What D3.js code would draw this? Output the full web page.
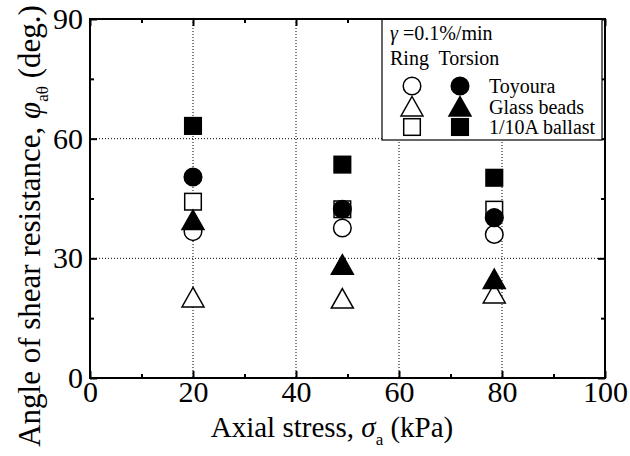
<!DOCTYPE html>
<html>
<head>
<meta charset="utf-8">
<script src="https://cdn.jsdelivr.net/npm/d3@7"></script>
<style>
  body { margin: 0; background: #fff; }
  text { font-family: "Liberation Serif", "Times New Roman", serif; fill: #000; }
</style>
</head>
<body>
<div id="chart"></div>
<script>
// Data
const stress = [20, 49, 78.5];
const toyouraRing = [36.7, 37.6, 36.0];
const toyouraTorsion = [50.4, 42.3, 40.2];
const glassRing = [20.2, 19.9, 21.2];
const glassTorsion = [39.6, 28.4, 24.8];
const ballastRing = [44.2, 42.3, 42.2];
const ballastTorsion = [63.2, 53.5, 50.2];

const xTicks = [0, 20, 40, 60, 80, 100];
const xMinor = [10, 30, 50, 70, 90];
const yTicks = [0, 30, 60, 90];
const yMinor = [15, 45, 75];

const series = [
  {name: 'Toyoura', shape: 'circle', fill: false, values: toyouraRing},
  {name: 'Glass beads', shape: 'triangle', fill: false, values: glassRing},
  {name: '1/10A ballast', shape: 'square', fill: false, values: ballastRing},
  {name: 'Toyoura', shape: 'circle', fill: true, values: toyouraTorsion},
  {name: 'Glass beads', shape: 'triangle', fill: true, values: glassTorsion},
  {name: '1/10A ballast', shape: 'square', fill: true, values: ballastTorsion}
];

const width = 630;
const height = 456;
const margin = {top: 19, right: 25, bottom: 78, left: 90};
const innerW = width - margin.left - margin.right;
const innerH = height - margin.top - margin.bottom;

const svg = d3.select('#chart')
  .append('svg')
    .attr('width', width)
    .attr('height', height);

const g = svg.append('g')
  .attr('transform', `translate(${margin.left},${margin.top})`);

const x = d3.scaleLinear().domain([0, 100]).range([0, innerW]);
const y = d3.scaleLinear().domain([0, 90]).range([innerH, 0]);

// dotted grid
const grid = g.append('g')
  .attr('stroke', '#000')
  .attr('stroke-width', 1)
  .attr('stroke-dasharray', '1 2');
grid.selectAll('.gx')
  .data(xTicks.slice(1, -1))
  .join('line')
    .attr('class', 'gx')
    .attr('x1', d => x(d)).attr('x2', d => x(d))
    .attr('y1', 0).attr('y2', innerH);
grid.selectAll('.gy')
  .data(yTicks.slice(1, -1))
  .join('line')
    .attr('class', 'gy')
    .attr('x1', 0).attr('x2', innerW)
    .attr('y1', d => y(d)).attr('y2', d => y(d));

// axes: ticks pointing inward on all sides
function styleAxis(sel) {
  sel.select('.domain').remove();
  sel.selectAll('line').attr('stroke', '#000').attr('stroke-width', 2);
  sel.selectAll('text')
    .style('font-family', '"Liberation Serif", serif')
    .style('font-size', '30px')
    .attr('fill', '#000');
}

g.append('g')
  .attr('transform', `translate(0,${innerH})`)
  .call(d3.axisBottom(x).tickValues(xTicks).tickSize(-7).tickPadding(3).tickFormat(d3.format('d')))
  .call(styleAxis)
  .selectAll('text').attr('dy', '0.71em');
g.append('g')
  .attr('transform', `translate(0,${innerH})`)
  .call(d3.axisBottom(x).tickValues(xMinor).tickSize(-4).tickFormat(''))
  .call(styleAxis);
g.append('g')
  .call(d3.axisTop(x).tickValues(xTicks).tickSize(-7).tickFormat(''))
  .call(styleAxis);
g.append('g')
  .call(d3.axisTop(x).tickValues(xMinor).tickSize(-4).tickFormat(''))
  .call(styleAxis);

g.append('g')
  .call(d3.axisLeft(y).tickValues(yTicks).tickSize(-7).tickPadding(7).tickFormat(d3.format('d')))
  .call(styleAxis);
g.append('g')
  .call(d3.axisLeft(y).tickValues(yMinor).tickSize(-4).tickFormat(''))
  .call(styleAxis);
g.append('g')
  .attr('transform', `translate(${innerW},0)`)
  .call(d3.axisRight(y).tickValues(yTicks).tickSize(-7).tickFormat(''))
  .call(styleAxis);
g.append('g')
  .attr('transform', `translate(${innerW},0)`)
  .call(d3.axisRight(y).tickValues(yMinor).tickSize(-4).tickFormat(''))
  .call(styleAxis);

// marker drawing
function drawMarker(sel, shape, filled) {
  let m;
  if (shape === 'circle') {
    m = sel.append('circle').attr('r', 8.8);
  } else if (shape === 'square') {
    m = sel.append('rect').attr('x', -8.3).attr('y', -8.3).attr('width', 16.6).attr('height', 16.6);
  } else {
    m = sel.append('path').attr('d', 'M0,-10L11,9.5L-11,9.5Z');
  }
  m.attr('fill', filled ? '#000' : '#fff')
    .attr('stroke', '#000')
    .attr('stroke-width', 1.5);
}

const pointsGroup = g.append('g').attr('class', 'points');
series.forEach(s => {
  s.values.forEach((v, i) => {
    const p = pointsGroup.append('g')
      .attr('transform', `translate(${x(stress[i])},${y(v)})`);
    drawMarker(p, s.shape, s.fill);
  });
});

// legend
const legend = g.append('g').attr('transform', 'translate(292,0)');
legend.append('rect')
  .attr('x', 0).attr('y', 0)
  .attr('width', 220).attr('height', 121)
  .attr('fill', '#fff')
  .attr('stroke', '#000')
  .attr('stroke-width', 1.2);
const lt = legend.append('text')
  .attr('x', 8).attr('y', 21)
  .style('font-size', '20px');
lt.append('tspan').style('font-style', 'italic').text('γ');
lt.append('tspan').text(' =0.1%/min');
legend.append('text')
  .attr('x', 8).attr('y', 46)
  .style('font-size', '20px')
  .attr('xml:space', 'preserve')
  .text('Ring  Torsion');

const legendRows = ['Toyoura', 'Glass beads', '1/10A ballast'];
const legendShapes = ['circle', 'triangle', 'square'];
legendRows.forEach((name, i) => {
  const cy = 67 + i * 20.5;
  drawMarker(legend.append('g').attr('transform', `translate(30,${cy})`), legendShapes[i], false);
  drawMarker(legend.append('g').attr('transform', `translate(78,${cy})`), legendShapes[i], true);
  legend.append('text')
    .attr('x', 107).attr('y', cy + 7)
    .style('font-size', '20px')
    .text(name);
});

// frame
g.append('rect')
  .attr('width', innerW).attr('height', innerH)
  .attr('fill', 'none')
  .attr('stroke', '#000')
  .attr('stroke-width', 2);

// axis titles
const xt = svg.append('text')
  .attr('x', 332).attr('y', 437)
  .attr('text-anchor', 'middle')
  .style('font-size', '29px');
xt.append('tspan').text('Axial stress, ');
xt.append('tspan').style('font-style', 'italic').text('σ');
xt.append('tspan').attr('dy', 8).style('font-size', '17px').text('a');
xt.append('tspan').attr('dy', -8).text(' (kPa)');

const yt = svg.append('text')
  .attr('transform', 'translate(40,226) rotate(-90)')
  .attr('text-anchor', 'middle')
  .style('font-size', '31px');
yt.append('tspan').text('Angle of shear resistance, ');
yt.append('tspan').style('font-style', 'italic').text('φ');
yt.append('tspan').attr('dy', 8).style('font-size', '17px').text('aθ');
yt.append('tspan').attr('dy', -8).text(' (deg.)');
</script>
</body>
</html>
